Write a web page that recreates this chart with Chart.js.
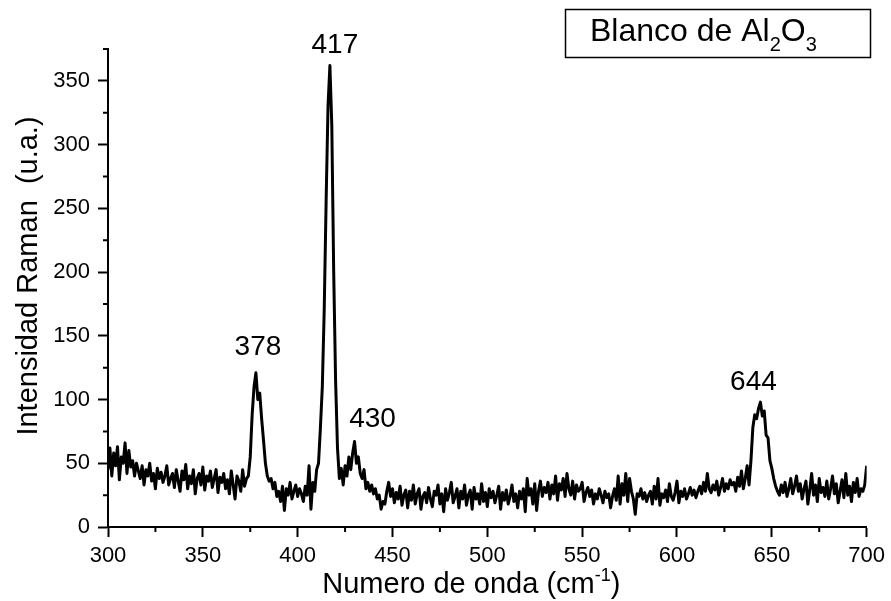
<!DOCTYPE html>
<html>
<head>
<meta charset="utf-8">
<script src="https://cdn.jsdelivr.net/npm/chart.js@4/dist/chart.umd.min.js"></script>
<style>
  html, body { margin: 0; padding: 0; background: #fff; }
  canvas { display: block; }
</style>
</head>
<body>
<canvas id="raman" width="891" height="601"></canvas>
<script>
// Raman spectrum, one reading per cm-1 starting at 300
const waveStart = 300
const intensity = [
  45, 62, 40, 58, 48, 63, 37, 55, 50, 66,
  42, 60, 47, 52, 40, 50, 44, 38, 48, 33,
  45, 40, 50, 36, 42, 30, 46, 38, 43, 35,
  40, 48, 33, 38, 42, 31, 45, 36, 28, 44,
  37, 49, 30, 40, 34, 45, 26, 38, 42, 33,
  47, 29, 40, 36, 44, 31, 38, 45, 27, 39,
  35, 42, 30, 37, 26, 44, 33, 22, 40, 36,
  28, 45, 32, 38, 40, 55, 88, 110, 121, 100,
  105, 85, 68, 50, 40, 36, 38, 30, 35, 24,
  28, 20, 32, 13, 30, 25, 35, 22, 28, 33,
  24, 30, 26, 20, 32, 25, 48, 14, 35, 28,
  45, 50, 78, 110, 170, 255, 330, 362, 315, 200,
  115, 62, 38, 46, 33, 48, 40, 55, 45, 58,
  67, 50, 55, 42, 38, 45, 30, 35, 28, 33,
  26, 30, 22, 25, 14, 20, 18, 28, 35, 24,
  30, 19, 27, 22, 32, 17, 25, 29, 15, 28,
  21, 33, 18, 26, 30, 14, 24, 27, 19, 31,
  22, 16, 28, 25, 33, 18, 26, 12, 30, 21,
  27, 35, 19, 24, 30, 15, 28, 22, 33, 17,
  25, 29, 14, 31, 22, 26, 18, 34, 20, 27,
  16, 30, 23, 28, 19, 25, 32, 14, 27, 21,
  29, 18, 24, 33, 20, 26, 15, 28, 22, 30,
  12, 38, 25, 30, 18, 34, 13, 28, 36, 24,
  31, 27, 35, 22, 33, 26, 40, 21, 34, 29,
  38, 24, 42, 30, 25, 36, 22, 33, 28, 30,
  35, 20, 27, 31, 24, 29, 18, 26, 22, 30,
  25, 19, 28, 23, 26, 15, 24, 30, 21, 40,
  18, 34, 25, 42, 20, 38, 28, 22, 10, 26,
  24, 30, 22, 27, 20, 25, 28, 18, 32, 22,
  38, 17, 26, 23, 29, 20, 34, 24, 21, 27,
  36, 19, 28, 24, 30, 22, 26, 31, 25, 29,
  23, 28, 32, 26, 35, 28, 42, 30, 27, 33,
  29, 36, 25, 31, 38, 28, 34, 30, 37, 33,
  35, 28, 39, 32, 44, 30, 38, 48, 33, 52,
  78, 88, 85, 93, 98, 87, 91, 72, 70, 52,
  46, 38, 32, 28, 25, 33, 27, 35, 24, 30,
  38, 26, 32, 40, 28, 34, 22, 30, 36, 18,
  29, 42, 25, 33, 20, 38, 27, 31, 24, 36,
  22, 30, 40, 26, 34, 19, 28, 37, 23, 42,
  25, 32, 20, 35, 27, 38, 24, 30, 28, 33,
  48
]

// band positions written over the peaks
const peakLabels = ["378", "417", "430", "644"]
const peakAt     = [378, 417, 430, 644]
const peakShiftX = [2, 5, 18, -7]
const peakShiftY = [25, 20, 22, 20]

const xMin = 300, xMax = 700, xStep = 25
const yMin = 0,   yMax = 375, yStep = 25

const FONT = "'Liberation Sans', Arial, sans-serif"

const isMajor = (v) => v % 50 === 0

// short ticks at the 25-unit marks between labels
const minorTicks = {
  id: "minorTicks",
  afterDraw(chart) {
    const { ctx, chartArea, scales } = chart
    ctx.save()
    ctx.strokeStyle = "#000"
    ctx.lineWidth = 2
    ctx.beginPath()
    scales.x.ticks.forEach((t) => {
      if (isMajor(t.value)) return
      const px = scales.x.getPixelForValue(t.value)
      ctx.moveTo(px, chartArea.bottom)
      ctx.lineTo(px, chartArea.bottom + 5)
    })
    scales.y.ticks.forEach((t) => {
      if (isMajor(t.value)) return
      const py = scales.y.getPixelForValue(t.value)
      ctx.moveTo(chartArea.left, py)
      ctx.lineTo(chartArea.left - 5, py)
    })
    ctx.stroke()
    ctx.restore()
  }
}

const peakText = {
  id: "peakText",
  afterDatasetsDraw(chart) {
    const { ctx, scales } = chart
    ctx.save()
    ctx.fillStyle = "#000"
    ctx.font = `28px ${FONT}`
    ctx.textAlign = "center"
    ctx.textBaseline = "middle"
    peakLabels.forEach((label, i) => {
      const x = scales.x.getPixelForValue(peakAt[i]) + peakShiftX[i]
      const y = scales.y.getPixelForValue(intensity[peakAt[i] - waveStart]) - peakShiftY[i]
      ctx.fillText(label, x, y)
    })
    ctx.restore()
  }
}

// draws a run of [text, size, raise] pieces left to right
function drawRuns(ctx, runs, x, y) {
  runs.forEach(([txt, size, raise]) => {
    ctx.font = `${size}px ${FONT}`
    ctx.fillText(txt, x, y - raise)
    x += ctx.measureText(txt).width
  })
}

function runsWidth(ctx, runs) {
  return runs.reduce((w, [txt, size]) => {
    ctx.font = `${size}px ${FONT}`
    return w + ctx.measureText(txt).width
  }, 0)
}

const titles = {
  id: "titles",
  afterDraw(chart) {
    const { ctx, chartArea } = chart
    ctx.save()
    ctx.fillStyle = "#000"
    ctx.textAlign = "left"
    ctx.textBaseline = "alphabetic"

    // x axis title with superscript
    const xRuns = [["Numero de onda (cm", 29, 0], ["-1", 18, 12], [")", 29, 0]]
    const xw = runsWidth(ctx, xRuns)
    const cx = (chartArea.left + chartArea.right) / 2 - 16
    drawRuns(ctx, xRuns, cx - xw / 2, 593)

    // y axis title, rotated
    ctx.save()
    ctx.translate(37, (chartArea.top + chartArea.bottom) / 2 - 12)
    ctx.rotate(-Math.PI / 2)
    ctx.textAlign = "center"
    ctx.font = `29px ${FONT}`
    ctx.fillText("Intensidad Raman  (u.a.)", 0, 0)
    ctx.restore()

    // sample box in the top right corner
    ctx.strokeStyle = "#000"
    ctx.lineWidth = 1.5
    ctx.strokeRect(565.5, 9.5, 305, 48)
    const boxRuns = [["Blanco de Al", 32, 0], ["2", 20, -10], ["O", 32, 0], ["3", 20, -10]]
    drawRuns(ctx, boxRuns, 590, 41)
    ctx.restore()
  }
}

const points = intensity.map((v, i) => ({ x: waveStart + i, y: v }))

new Chart(document.getElementById("raman"), {
  type: "line",
  data: {
    datasets: [{
      data: points,
      borderColor: "#000",
      borderWidth: 3,
      borderJoinStyle: "round",
      pointRadius: 0,
      tension: 0,
      fill: false
    }]
  },
  options: {
    responsive: false,
    animation: false,
    events: [],
    layout: { padding: { top: 49, right: 23, left: 0, bottom: 0 } },
    plugins: {
      legend: { display: false },
      tooltip: { enabled: false }
    },
    scales: {
      x: {
        type: "linear",
        min: xMin,
        max: xMax,
        afterFit: (scale) => { scale.height = 74 },
        border: { color: "#000", width: 2 },
        grid: {
          drawOnChartArea: false,
          tickLength: 10,
          tickWidth: 2,
          tickColor: (c) => (c.tick && isMajor(c.tick.value) ? "#000" : "rgba(0,0,0,0)")
        },
        ticks: {
          stepSize: xStep,
          autoSkip: false,
          maxRotation: 0,
          padding: 6,
          color: "#000",
          font: { family: FONT, size: 22 },
          callback: (v) => (isMajor(v) ? v : "")
        }
      },
      y: {
        min: yMin,
        max: yMax,
        afterFit: (scale) => { scale.width = 108 },
        border: { color: "#000", width: 2 },
        grid: {
          drawOnChartArea: false,
          tickLength: 10,
          tickWidth: 2,
          tickColor: (c) => (c.tick && isMajor(c.tick.value) ? "#000" : "rgba(0,0,0,0)")
        },
        ticks: {
          stepSize: yStep,
          autoSkip: false,
          padding: 8,
          color: "#000",
          font: { family: FONT, size: 22 },
          callback: (v) => (isMajor(v) ? v : "")
        }
      }
    }
  },
  plugins: [minorTicks, peakText, titles]
})
</script>
</body>
</html>
